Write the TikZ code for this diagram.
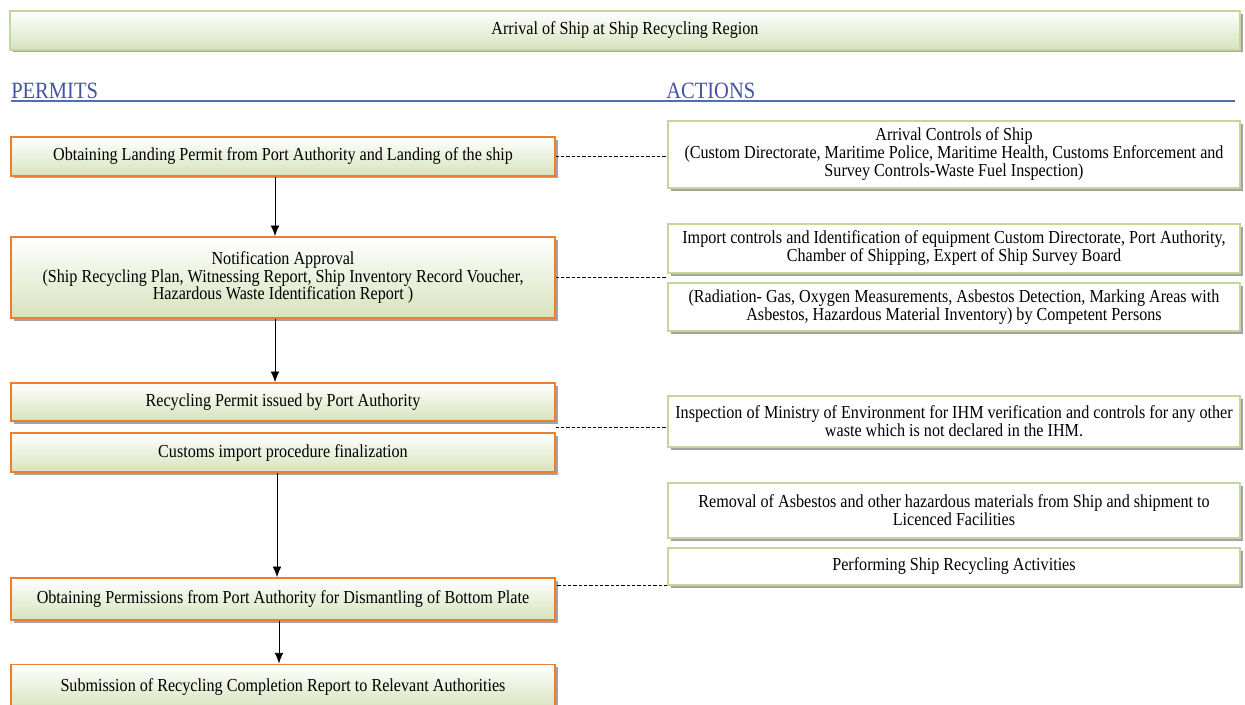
\documentclass[tikz,border=0pt]{standalone}
\usepackage{fontspec}
\setmainfont{Liberation Serif}[FakeStretch=0.88]
\usetikzlibrary{shadows,arrows.meta,calc}
\definecolor{permitorange}{RGB}{237,125,49}
\definecolor{permitgreen}{RGB}{214,227,188}
\definecolor{actiongreen}{RGB}{195,214,155}
\definecolor{headblue}{RGB}{68,84,160}
\definecolor{lineblue}{RGB}{79,110,180}

\begin{document}
\begin{tikzpicture}[x=0.75pt,y=0.75pt,yscale=-1,xscale=1,
  font=\fontsize{13.75}{13.5}\selectfont,
  boxshadow/.style={drop shadow={shadow xshift=2pt,shadow yshift=-2pt,fill=black!60,opacity=.6}},
  topbox/.style={draw=actiongreen,line width=1.2pt,top color=white,bottom color=permitgreen,minimum width=922.5pt,minimum height=29pt,inner sep=0pt,boxshadow},
  permitbox/.style={draw=permitorange,line width=1.2pt,top color=white,bottom color=permitgreen,minimum width=408pt,align=center,inner sep=0pt,boxshadow},
  actionbox/.style={draw=actiongreen,line width=1.2pt,fill=white,minimum width=429pt,align=center,inner sep=0pt,boxshadow},
  flowarrow/.style={-{Latex[length=8pt,width=6.5pt]},line width=0.6pt},
  actionlink/.style={dash pattern=on 2.5pt off 1.5pt,line width=0.5pt},
  headtext/.style={font=\fontsize{17.5}{17.5}\selectfont,text=headblue,inner sep=0pt,anchor=base west}
]
\useasboundingbox (0,0) rectangle (1245,705);

\node[topbox] (arrival) at (625,30.5) {Arrival of Ship at Ship Recycling Region};

\node[headtext] (permits) at (11,99) {PERMITS};
\node[headtext] (actions) at (666,99) {ACTIONS};
\draw[lineblue,line width=1pt] (11,101) -- (1235,101);

\node[permitbox,minimum height=29pt] (l1) at (283,156.5) {Obtaining Landing Permit from Port Authority and Landing of the ship};
\node[permitbox,minimum height=60.75pt] (l2) at (283,277.5) {Notification Approval\\(Ship Recycling Plan, Witnessing Report, Ship Inventory Record Voucher,\\Hazardous Waste Identification Report )};
\node[permitbox,minimum height=28.5pt] (l3) at (283,402) {Recycling Permit issued by Port Authority};
\node[permitbox,minimum height=29.25pt] (l4) at (283,452.5) {Customs import procedure finalization};
\node[permitbox,minimum height=31.5pt] (l5) at (283,599) {Obtaining Permissions from Port Authority for Dismantling of Bottom Plate};
\node[permitbox,minimum height=34pt] (l6) at (283,687) {Submission of Recycling Completion Report to Relevant Authorities};

\node[actionbox,minimum height=50.25pt] (r1) at (954,154.5) {Arrival Controls of Ship\\(Custom Directorate, Maritime Police, Maritime Health, Customs Enforcement and\\Survey Controls-Waste Fuel Inspection)};
\node[actionbox,minimum height=36.75pt] (r2) at (954,248.5) {Import controls and Identification of equipment Custom Directorate, Port Authority,\\Chamber of Shipping, Expert of Ship Survey Board};
\node[actionbox,minimum height=36pt] (r3) at (954,307) {(Radiation- Gas, Oxygen Measurements, Asbestos Detection, Marking Areas with\\Asbestos, Hazardous Material Inventory) by Competent Persons};
\node[actionbox,minimum height=38.25pt] (r4) at (954,421.5) {Inspection of Ministry of Environment for IHM verification and controls for any other\\waste which is not declared in the IHM.};
\node[actionbox,minimum height=41.25pt] (r5) at (954,510.5) {Removal of Asbestos and other hazardous materials from Ship and shipment to\\Licenced Facilities};
\node[actionbox,minimum height=27.75pt] (r6) at (954,566.5) {Performing Ship Recycling Activities};

\draw[flowarrow] ([xshift=-6pt]l1.south) -- ([xshift=-6pt]l2.north);
\draw[flowarrow] ([xshift=-6pt]l2.south) -- ([xshift=-6pt]l3.north);
\draw[flowarrow] ([xshift=-4.5pt]l4.south) -- ([xshift=-4.5pt]l5.north);
\draw[flowarrow] ([xshift=-3pt]l5.south) -- ([xshift=-3pt]l6.north);

\coordinate (l34) at ($(l3.south east)!0.5!(l4.north east)$);
\draw[actionlink] (l1.east) -- (l1.east -| r1.west);
\draw[actionlink] (l2.east) -- (l2.east -| r2.west);
\draw[actionlink] (l34) -- (l34 -| r4.west);
\draw[actionlink] (r6.south west) -- (r6.south west -| l5.east);
\end{tikzpicture}
\end{document}
